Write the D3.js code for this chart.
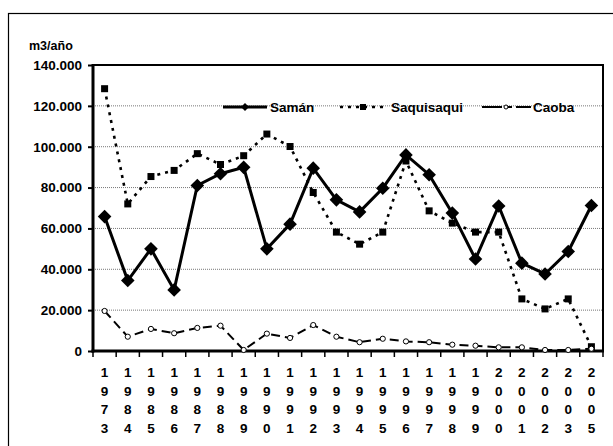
<!DOCTYPE html>
<html><head><meta charset="utf-8">
<script src="https://cdn.jsdelivr.net/npm/d3@7"></script>
<style>body{margin:0;background:#fff}svg{display:block;font-family:"Liberation Sans",Arial,sans-serif;font-weight:bold}</style>
</head><body><svg id="c" width="613" height="446"></svg>
<script>
const categories = ["1973","1984","1985","1986","1987","1988","1989","1990","1991","1992","1993","1994","1995","1996","1997","1998","1999","2000","2001","2002","2003","2005"];
const saman = [65800,34500,50000,29900,81000,86800,89900,50000,62100,89500,74000,68100,79700,96000,86300,67500,45000,71000,43000,37700,48700,71200];
const saquisaqui = [128400,72000,85400,88400,96600,91300,95600,106200,100100,77600,58200,52300,58200,93000,68600,62600,58200,58200,25500,20600,25500,2100];
const caoba = [19600,7000,10800,8700,11300,12400,500,8500,6400,12700,7000,4300,6000,4700,4300,3100,2600,1800,1800,500,500,1100];
const yTicks = [0,20000,40000,60000,80000,100000,120000,140000];
const seriesNames = ["Samán","Saquisaqui","Caoba"];

const svg = d3.select("#c");
const L=93,R=603,T=65,B=351;
const x = d3.scaleBand().domain(categories).range([L,R]).padding(0);
const y = d3.scaleLinear().domain([0,140000]).range([B,T]);
const cx = d => x(d)+x.bandwidth()/2;
const fmt = d3.formatLocale({decimal:",",thousands:".",grouping:[3],currency:["",""]}).format(",");

// outer frame
svg.append("rect").attr("x",8.5).attr("y",13.5).attr("width",620).attr("height",450).attr("fill","none").attr("stroke","#000").attr("stroke-width",1.2);

// gridlines
svg.append("g").selectAll("line").data(yTicks.filter(v=>v>0&&v<140000)).join("line")
  .attr("x1",L).attr("x2",R).attr("y1",d=>y(d)).attr("y2",d=>y(d))
  .attr("stroke","#777").attr("stroke-width",1).attr("stroke-dasharray","1,1");

// plot border top/right
svg.append("path").attr("d",`M${L},${T}H${R}V${B}`).attr("fill","none").attr("stroke","#000").attr("stroke-width",2);

// y axis
const ya = svg.append("g").attr("transform",`translate(${L},0)`)
  .call(d3.axisLeft(y).tickValues(yTicks).tickFormat(fmt).tickSize(5).tickPadding(6));
ya.select(".domain").remove();
ya.selectAll("line").attr("stroke","#000").attr("stroke-width",2);
ya.selectAll("text").attr("font-size","13.5px").attr("font-weight","bold").attr("fill","#000").attr("font-family","'Liberation Sans',Arial,sans-serif");

// x axis tick marks at band boundaries
const bounds = categories.map(c=>x(c)).concat([R]);
svg.append("g").selectAll("line").data(bounds).join("line")
  .attr("x1",d=>d).attr("x2",d=>d).attr("y1",B).attr("y2",B+6).attr("stroke","#000").attr("stroke-width",1.5);

// x labels stacked digits
const xl = svg.append("g");
categories.forEach(c=>{
  c.split("").forEach((ch,i)=>{
    xl.append("text").attr("x",cx(c)).attr("y",377+i*18.7).attr("text-anchor","middle")
      .attr("font-size","13.5px").text(ch);
  });
});

// axis lines
svg.append("line").attr("x1",L).attr("x2",L).attr("y1",T-1).attr("y2",B+1.5).attr("stroke","#000").attr("stroke-width",3);
svg.append("line").attr("x1",L-1.5).attr("x2",R+1).attr("y1",B).attr("y2",B).attr("stroke","#000").attr("stroke-width",3);

// y unit label
svg.append("text").attr("x",29).attr("y",50).attr("font-size","12.5px").text("m3/año");

const line = d3.line().x((d,i)=>cx(categories[i])).y(d=>y(d));

// Saquisaqui
svg.append("path").datum(saquisaqui).attr("d",line).attr("fill","none").attr("stroke","#000").attr("stroke-width",2.6).attr("stroke-dasharray","3,5");
svg.append("g").selectAll("rect").data(saquisaqui).join("rect")
  .attr("x",(d,i)=>cx(categories[i])-3.5).attr("y",d=>y(d)-3.5).attr("width",7).attr("height",7).attr("fill","#000");

// Samán
svg.append("path").datum(saman).attr("d",line).attr("fill","none").attr("stroke","#000").attr("stroke-width",3);
const diamond = s => `M0,${-s}L${s},0L0,${s}L${-s},0Z`;
svg.append("g").selectAll("path").data(saman).join("path")
  .attr("transform",(d,i)=>`translate(${cx(categories[i])},${y(d)})`).attr("d",diamond(6.8)).attr("fill","#000");

// Caoba
svg.append("path").datum(caoba).attr("d",line).attr("fill","none").attr("stroke","#000").attr("stroke-width",2).attr("stroke-dasharray","9,5");
svg.append("g").selectAll("circle").data(caoba).join("circle")
  .attr("cx",(d,i)=>cx(categories[i])).attr("cy",d=>y(d)).attr("r",2.6).attr("fill","#fff").attr("stroke","#000").attr("stroke-width",1);

// legend
const ly = 107;
const lg = svg.append("g");
// Samán
lg.append("line").attr("x1",223).attr("x2",267).attr("y1",ly).attr("y2",ly).attr("stroke","#000").attr("stroke-width",3);
lg.append("path").attr("transform",`translate(245,${ly})`).attr("d",diamond(4)).attr("fill","#000");
lg.append("text").attr("x",270).attr("y",ly+5).attr("font-size","13.5px").text(seriesNames[0]);
// Saquisaqui
lg.append("line").attr("x1",340).attr("x2",388).attr("y1",ly).attr("y2",ly).attr("stroke","#000").attr("stroke-width",2.6).attr("stroke-dasharray","3,5");
lg.append("rect").attr("x",360).attr("y",ly-3).attr("width",6).attr("height",6).attr("fill","#000");
lg.append("text").attr("x",391).attr("y",ly+5).attr("font-size","13.5px").text(seriesNames[1]);
// Caoba
lg.append("line").attr("x1",482).attr("x2",531).attr("y1",ly).attr("y2",ly).attr("stroke","#000").attr("stroke-width",2).attr("stroke-dasharray","20,4,6,4");
lg.append("circle").attr("cx",506).attr("cy",ly).attr("r",2).attr("fill","#fff").attr("stroke","#000").attr("stroke-width",1);
lg.append("text").attr("x",533).attr("y",ly+5).attr("font-size","13.5px").text(seriesNames[2]);
</script></body></html>
